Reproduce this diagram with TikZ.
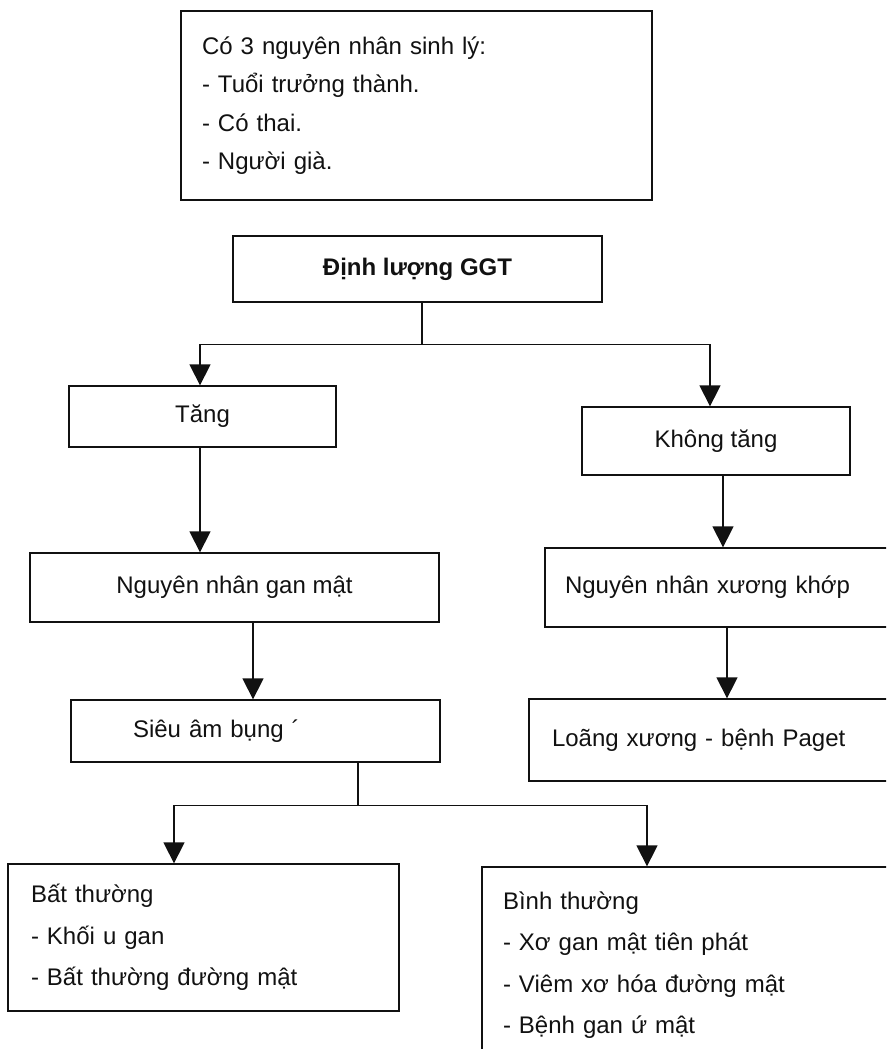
\documentclass[tikz,border=0pt]{standalone}
\usepackage{fontspec}
\setmainfont{Liberation Sans}
\usetikzlibrary{arrows.meta}
\definecolor{inkblack}{HTML}{111111}
\newcommand\boxfont{\fontsize{24}{38.5}\selectfont}
\newcommand\listfont{\fontsize{24}{41.5}\selectfont}

\begin{document}
\begin{tikzpicture}[
  x=1pt,y=-1pt,
  >={Triangle[width=21pt,length=21pt]},
  box/.style={draw=inkblack,line width=1.3pt,inner ysep=0pt,text=inkblack,font=\boxfont},
  cbox/.style 2 args={box,minimum width=#1,minimum height=#2,align=center},
  lbox/.style n args={3}{box,minimum height=#1,inner xsep=#2,text width=#3,align=left},
  conn/.style={draw=inkblack,line width=1.3pt}
]
  \useasboundingbox (0,0) rectangle (886,1049);
  \clip (0,0) rectangle (886,1049);

  \node[lbox={189pt}{21pt}{429pt}] (physio) at (416.5,105.5)
    {Có 3 nguyên nhân sinh lý:\\- Tuổi trưởng thành.\\- Có thai.\\- Người già.};
  \node[cbox={369pt}{66pt},font=\boxfont\bfseries] (ggt) at (417.5,269) {Định lượng GGT};
  \node[cbox={267pt}{61pt}] (tang) at (202.5,416.5) {Tăng};
  \node[cbox={268pt}{68pt}] (khongtang) at (716,441) {Không tăng};
  \node[cbox={409pt}{69pt}] (ganmat) at (234.5,587.5) {Nguyên nhân gan mật};
  \node[lbox={62pt}{62pt}{245pt}] (sieuam) at (255.5,731) {Siêu âm bụng ´};
  \node[lbox={79pt}{20pt}{345pt}] (xuongkhop) at (737.5,587.5) {Nguyên nhân xương khớp};
  \node[lbox={82pt}{23pt}{355pt}] (loang) at (729.5,740) {Loãng xương - bệnh Paget};
  \node[lbox={147pt}{23pt}{345pt},font=\listfont] (batthuong) at (203.5,937.5)
    {Bất thường\\- Khối u gan\\- Bất thường đường mật};
  \node[lbox={196pt}{21pt}{406pt},font=\listfont] (binhthuong) at (706,965)
    {Bình thường\\- Xơ gan mật tiên phát\\- Viêm xơ hóa đường mật\\- Bệnh gan ứ mật};

  \coordinate (fork1) at ([xshift=4.5pt,yshift=-42pt]ggt.south);
  \coordinate (fork2) at ([xshift=102.5pt,yshift=-43pt]sieuam.south);

  \draw[conn] (ggt.south -| fork1) -- (fork1);
  \draw[conn,->] (fork1) -| ([xshift=-2.5pt]tang.north);
  \draw[conn,->] (fork1) -| ([xshift=-6pt]khongtang.north);
  \draw[conn,->] ([xshift=-2.5pt]tang.south) -- ([xshift=-2.5pt]tang.south |- ganmat.north);
  \draw[conn,->] ([xshift=7pt]khongtang.south) -- ([xshift=7pt]khongtang.south |- xuongkhop.north);
  \draw[conn,->] ([xshift=18.5pt]ganmat.south) -- ([xshift=18.5pt]ganmat.south |- sieuam.north);
  \draw[conn,->] ([xshift=-10.5pt]xuongkhop.south) -- ([xshift=-10.5pt]xuongkhop.south |- loang.north);
  \draw[conn] (sieuam.south -| fork2) -- (fork2);
  \draw[conn,->] (fork2) -| ([xshift=-29.5pt]batthuong.north);
  \draw[conn,->] (fork2) -| ([xshift=-59pt]binhthuong.north);
\end{tikzpicture}
\end{document}
